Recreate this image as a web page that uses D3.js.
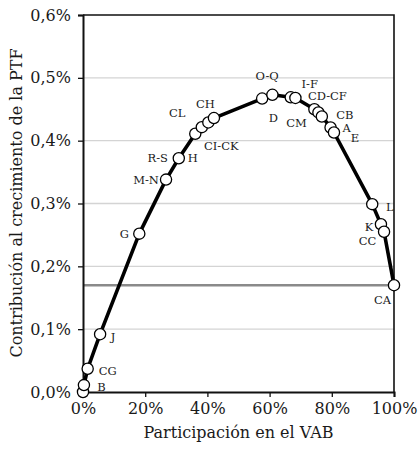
<!DOCTYPE html>
<html>
<head>
<meta charset="utf-8">
<script src="https://cdn.jsdelivr.net/npm/d3@7"></script>
<style>
  body { margin: 0; background: #fff; }
  text { font-family: "DejaVu Serif", "Liberation Serif", serif; fill: #1a1a1a; }
</style>
</head>
<body>
<div id="chart"></div>
<script>
const width = 418;
const height = 450;
const margin = { top: 15, right: 24, bottom: 58, left: 83 };

// sectors in cumulative order (first point is the origin)
const sectors = ["", "B", "CG", "J", "G", "M-N", "R-S", "CL", "H", "CI-CK", "CH",
  "O-Q", "D", "I-F", "", "CD-CF", "CM", "CB", "A", "E", "L", "K", "CC", "CA"];
// cumulative share of VAB (%)
const participation = [0, 0.3, 1.5, 5.5, 18.1, 26.7, 30.8, 36.1, 38.2, 40.3, 42.1,
  57.6, 60.9, 66.8, 68.3, 74.4, 75.7, 76.8, 79.6, 80.7, 93.0, 95.8, 96.8, 100];
// cumulative contribution to PTF growth (%)
const contribution = [0, 0.011, 0.037, 0.092, 0.252, 0.338, 0.372, 0.411, 0.4215, 0.429, 0.436,
  0.467, 0.473, 0.469, 0.468, 0.450, 0.445, 0.4385, 0.421, 0.413, 0.299, 0.267, 0.255, 0.170];
const totalLine = 0.17;

const xTicks = [0, 20, 40, 60, 80, 100];
const yTicks = [0, 0.1, 0.2, 0.3, 0.4, 0.5, 0.6];

// label placement relative to the marker (px)
const labelOffset = {
  "B": [17.5, 2], "CG": [20, 2], "J": [13, 2.5], "G": [-15, 0], "M-N": [-20, 0],
  "R-S": [-21, 0], "CL": [-18, -21], "H": [-9, 31], "CI-CK": [13, 23], "CH": [-8.5, -14],
  "O-Q": [5, -23], "D": [1, 23], "I-F": [19, -13], "CD-CF": [13, -13], "CM": [-22, 10],
  "CB": [23, -2], "A": [16, 0.5], "E": [21, 5.5], "L": [17.5, 3], "K": [-12, 3],
  "CC": [-16.5, 9.5], "CA": [-11.5, 15]
};

const data = sectors.map((s, i) => ({ s, x: participation[i], y: contribution[i] }));

const esLocale = d3.formatLocale({ decimal: ",", thousands: ".", grouping: [3], currency: ["", "€"] });
const fmtY = (d) => esLocale.format(".1f")(d) + "%";

const xScale = d3.scaleLinear().domain([0, 100]).range([margin.left, width - margin.right]);
const yScale = d3.scaleLinear().domain([0, 0.6]).range([height - margin.bottom, margin.top]);

const svg = d3.select("#chart").append("svg")
  .attr("width", width)
  .attr("height", height);

// gridlines
svg.append("g")
  .selectAll("line")
  .data(yTicks.slice(1, -1))
  .join("line")
  .attr("x1", xScale(0))
  .attr("x2", xScale(100))
  .attr("y1", (d) => yScale(d))
  .attr("y2", (d) => yScale(d))
  .attr("stroke", "#d4d4d4")
  .attr("stroke-width", 1.3);

// frame top + right
svg.append("path")
  .attr("d", `M${xScale(0)},${yScale(0.6)}H${xScale(100)}V${yScale(0)}`)
  .attr("fill", "none")
  .attr("stroke", "#111")
  .attr("stroke-width", 1.6);

// total reference line
svg.append("line")
  .attr("x1", xScale(0))
  .attr("x2", xScale(100))
  .attr("y1", yScale(totalLine))
  .attr("y2", yScale(totalLine))
  .attr("stroke", "#8a8a8a")
  .attr("stroke-width", 2.6);

const xAxis = svg.append("g")
  .attr("transform", `translate(0, ${yScale(0)})`)
  .call(d3.axisBottom(xScale).tickValues(xTicks).tickFormat((d) => d + "%").tickSize(5).tickPadding(6));

const yAxis = svg.append("g")
  .attr("transform", `translate(${xScale(0)}, 0)`)
  .call(d3.axisLeft(yScale).tickValues(yTicks).tickFormat(fmtY).tickSize(5).tickPadding(7));

[xAxis, yAxis].forEach((ax) => {
  ax.select(".domain").attr("stroke", "#111").attr("stroke-width", 2);
  ax.selectAll(".tick line").attr("stroke", "#111").attr("stroke-width", 1.3);
  ax.selectAll(".tick text")
    .style("font-family", '"DejaVu Serif", serif')
    .style("font-size", "16px")
    .attr("fill", "#1a1a1a");
});

svg.append("text")
  .attr("x", (xScale(0) + xScale(100)) / 2)
  .attr("y", 438)
  .attr("text-anchor", "middle")
  .style("font-size", "16px")
  .text("Participación en el VAB");

svg.append("text")
  .attr("transform", "rotate(-90)")
  .attr("x", -203)
  .attr("y", 22)
  .attr("text-anchor", "middle")
  .style("font-size", "16px")
  .text("Contribución al crecimiento de la PTF");

// curve
const line = d3.line().x((d) => xScale(d.x)).y((d) => yScale(d.y));
svg.append("path")
  .datum(data)
  .attr("d", line)
  .attr("fill", "none")
  .attr("stroke", "#000")
  .attr("stroke-width", 3.6)
  .attr("stroke-linejoin", "round");

svg.append("g")
  .selectAll("circle")
  .data(data)
  .join("circle")
  .attr("cx", (d) => xScale(d.x))
  .attr("cy", (d) => yScale(d.y))
  .attr("r", 5.6)
  .attr("fill", "#fff")
  .attr("stroke", "#000")
  .attr("stroke-width", 1.3);

svg.append("g")
  .selectAll("text")
  .data(data.filter((d) => d.s !== ""))
  .join("text")
  .attr("x", (d) => xScale(d.x) + labelOffset[d.s][0])
  .attr("y", (d) => yScale(d.y) + labelOffset[d.s][1])
  .attr("text-anchor", "middle")
  .attr("dy", "0.36em")
  .style("font-size", "11.5px")
  .text((d) => d.s);
</script>
</body>
</html>
